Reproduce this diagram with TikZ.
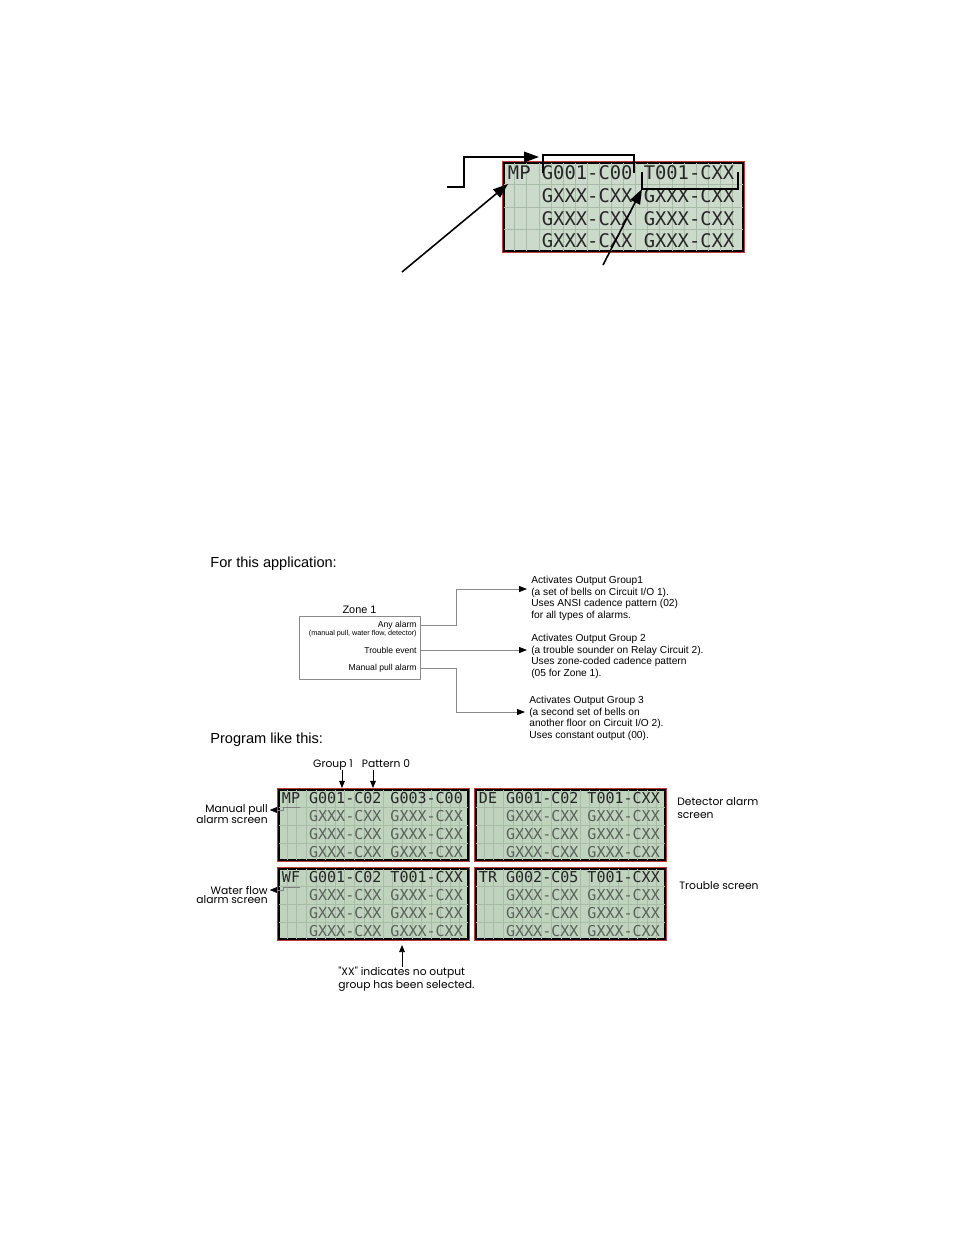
\documentclass[tikz,border=0pt]{standalone}
\usepackage{fontspec}
\setmainfont{Liberation Sans}
\newfontfamily\lcdfont{DejaVu Sans Mono}
\newfontfamily\gothfont{Poppins}
\usetikzlibrary{positioning,arrows.meta,calc}

\definecolor{lcdbg}{HTML}{BFD3BF}
\definecolor{lcdpale}{HTML}{CCDACB}
\definecolor{lcdgridc}{HTML}{A9BCA8}
\definecolor{lcdred}{HTML}{C23A3A}
\definecolor{lcdink}{HTML}{262626}
\definecolor{lcddim}{HTML}{5A625A}
\definecolor{zoneline}{HTML}{8A8A8A}

% character cells of a 20x4 display
\newcommand{\lcdcells}[1]{%
  \foreach \i in {1,...,19}
    \draw[cellline] ($(#1.north west)!{\i/20}!(#1.north east)$) -- ($(#1.south west)!{\i/20}!(#1.south east)$);
  \foreach \j in {1,2,3}
    \draw[cellline] ($(#1.north west)!{\j/4}!(#1.south west)$) -- ($(#1.north east)!{\j/4}!(#1.south east)$);
}
% four text rows of a display: name, font size, left offset, rows
\newcommand{\lcdrows}[7]{%
  \foreach \t [count=\k] in {{#4},{#5},{#6},{#7}}
    \node[lcdrow,font=\lcdfont\fontsize{#2}{#2}\selectfont] (#1-\k)
      at ($(#1.north west)!{(\k-0.5)/4}!(#1.south west)+(#3,0)$) {\t};
}

\begin{document}
\begin{tikzpicture}[x=0.02cm,y=-0.02cm,
 lcd/.style={draw=black,line width=1.6pt,fill=lcdbg,inner sep=0pt,
             preaction={draw=lcdred,line width=2.6pt}},
 cellline/.style={draw=lcdgridc,line width=0.35pt,shorten <=0.8pt,shorten >=0.8pt},
 lcdrow/.style={anchor=west,inner sep=0pt,text=lcdink},
 annot/.style={draw=black,line width=0.9pt},
 bigarr/.style={annot,-{Triangle[length=8.5pt,width=6pt]}},
 heading/.style={font=\fontsize{8.3}{10}\selectfont,inner sep=0pt,anchor=base west},
 zonebox/.style={draw=zoneline,line width=0.4pt,inner sep=0pt},
 evt/.style={font=\fontsize{4.9}{6}\selectfont,inner sep=0pt,anchor=east},
 zline/.style={draw=zoneline,line width=0.45pt,-{Triangle[length=4.5pt,width=3.4pt,color=black]}},
 outtxt/.style={font=\fontsize{5.8}{6.5}\selectfont,align=left,inner sep=0pt,anchor=north west},
 goth/.style={font=\gothfont\fontsize{6.1}{7.3}\selectfont,inner sep=0pt},
 thinarr/.style={draw=black,line width=0.45pt,-{Triangle[length=4pt,width=3.2pt]}},
 leader/.style={draw=gray,line width=0.4pt,-{Triangle[length=4pt,width=3.2pt,color=black]}}
]
\fill[white] (0,0) rectangle (954,1235);
\useasboundingbox (0,0) rectangle (954,1235);

% top display with its markers
\node[lcd,fill=lcdpale,minimum width=4.78cm,minimum height=1.76cm] (top) at (623.5,207) {};
\lcdcells{top}
\lcdrows{top}{10.7}{5}{MP G001-C00 T001-CXX}{~~~GXXX-CXX GXXX-CXX}{~~~GXXX-CXX GXXX-CXX}{~~~GXXX-CXX GXXX-CXX}

\coordinate (brkin) at (447,187);
\coordinate (brkup) at (464,157);
\coordinate (brktip) at (539,157);
\coordinate (mptail) at (402,272);
\coordinate (mptip) at (508,184);
\coordinate (trtail) at (603,265);
\coordinate (trtip) at (642,189);

\draw[bigarr] (brkin) -| (brkup) -- (brktip);
\draw[annot] (543,173) |- (634,155) -- (634,173);
\draw[annot] (642,172) |- (738,189) -- (738,172);
\draw[bigarr] (mptail) -- (mptip);
\draw[bigarr] (trtail) -- (trtip);

% application
\node[heading] (forapp) at (210,567) {For this application:};
\node[zonebox,minimum width=2.42cm,minimum height=1.26cm] (zone) at (359.5,647.5) {};
\node[font=\fontsize{6.2}{7}\selectfont,inner sep=1pt,anchor=south] (zonetitle) at (zone.north) {Zone 1};
\node[evt] (anyal) at (417,625) {Any alarm};
\node[evt,font=\fontsize{4.1}{5}\selectfont] (anysub) at (417,634) {(manual pull, water flow, detector)};
\node[evt] (trbev) at (417,650) {Trouble event};
\node[evt] (mpal) at (417,668) {Manual pull alarm};

\node[outtxt] (out1) at (531,576) {Activates Output Group1\\(a set of bells on Circuit I/O 1).\\Uses ANSI cadence pattern (02)\\for all types of alarms.};
\node[outtxt] (out2) at (531,634) {Activates Output Group 2\\(a trouble sounder on Relay Circuit 2).\\Uses zone-coded cadence pattern\\(05 for Zone 1).};
\node[outtxt] (out3) at (529,696) {Activates Output Group 3\\(a second set of bells on\\another floor on Circuit I/O 2).\\Uses constant output (00).};

\coordinate (in1) at (527,589);
\coordinate (in2) at (527,650);
\coordinate (in3) at (525,712);
\draw[zline] (anyal.east -| zone.east) -| (456,589) -- (in1);
\draw[zline] (trbev.east -| zone.east) -- (in2);
\draw[zline] (mpal.east -| zone.east) -| (456,712) -- (in3);

% programming screens
\node[heading] (proglike) at (210,743) {Program like this:};

\node[lcd,minimum width=3.78cm,minimum height=1.4cm] (scrmp) at (373.5,825) {};
\node[lcd,minimum width=3.78cm,minimum height=1.4cm] (scrde) at (570.5,825) {};
\node[lcd,minimum width=3.78cm,minimum height=1.4cm] (scrwf) at (373.5,904) {};
\node[lcd,minimum width=3.78cm,minimum height=1.4cm] (scrtr) at (570.5,904) {};
\foreach \s in {scrmp,scrde,scrwf,scrtr} {\lcdcells{\s}}
\lcdrows{scrmp}{8.55}{4}{MP G001-C02 G003-C00}{\color{lcddim}~~~GXXX-CXX GXXX-CXX}{\color{lcddim}~~~GXXX-CXX GXXX-CXX}{\color{lcddim}~~~GXXX-CXX GXXX-CXX}
\lcdrows{scrde}{8.55}{4}{DE G001-C02 T001-CXX}{\color{lcddim}~~~GXXX-CXX GXXX-CXX}{\color{lcddim}~~~GXXX-CXX GXXX-CXX}{\color{lcddim}~~~GXXX-CXX GXXX-CXX}
\lcdrows{scrwf}{8.55}{4}{WF G001-C02 T001-CXX}{\color{lcddim}~~~GXXX-CXX GXXX-CXX}{\color{lcddim}~~~GXXX-CXX GXXX-CXX}{\color{lcddim}~~~GXXX-CXX GXXX-CXX}
\lcdrows{scrtr}{8.55}{4}{TR G002-C05 T001-CXX}{\color{lcddim}~~~GXXX-CXX GXXX-CXX}{\color{lcddim}~~~GXXX-CXX GXXX-CXX}{\color{lcddim}~~~GXXX-CXX GXXX-CXX}

\node[goth,anchor=base] (grplab) at (333,767) {Group 1};
\node[goth,anchor=base] (patlab) at (386,767) {Pattern 0};
\coordinate (grptip) at (342,788);
\coordinate (pattip) at (373,788);
\draw[thinarr] (grptip |- patlab.south) ++(0,3) -- (grptip);
\draw[thinarr] (pattip |- patlab.south) ++(0,3) -- (pattip);

\node[goth,anchor=east] (mplab) at (268,810) {Manual pull};
\node[goth,anchor=north east] (mplab2) at (268,815) {alarm screen};
\node[goth,anchor=east] (wflab) at (268,890) {Water flow};
\node[goth,anchor=north east] (wflab2) at (268,895) {alarm screen};
\node[goth,anchor=north west,align=left] (delab) at (677,797) {Detector alarm\\screen};
\node[goth,anchor=west] (trlab) at (679,886) {Trouble screen};

\coordinate (mpcur) at (300,807);
\coordinate (wfcur) at (300,887);
\draw[gray,line width=0.4pt] (mpcur) -- (283,807);
\draw[gray,line width=0.4pt] (wfcur) -- (283,887);
\draw[leader] (283,807) |- ([xshift=1pt]mplab.east);
\draw[leader] (283,887) |- ([xshift=1pt]wflab.east);

\node[goth,anchor=north west,align=left] (xxnote) at (338,967) {"XX" indicates no output\\group has been selected.};
\coordinate (xxtip) at (402,945);
\draw[thinarr] (xxnote.north -| xxtip) -- (xxtip);
\end{tikzpicture}
\end{document}
